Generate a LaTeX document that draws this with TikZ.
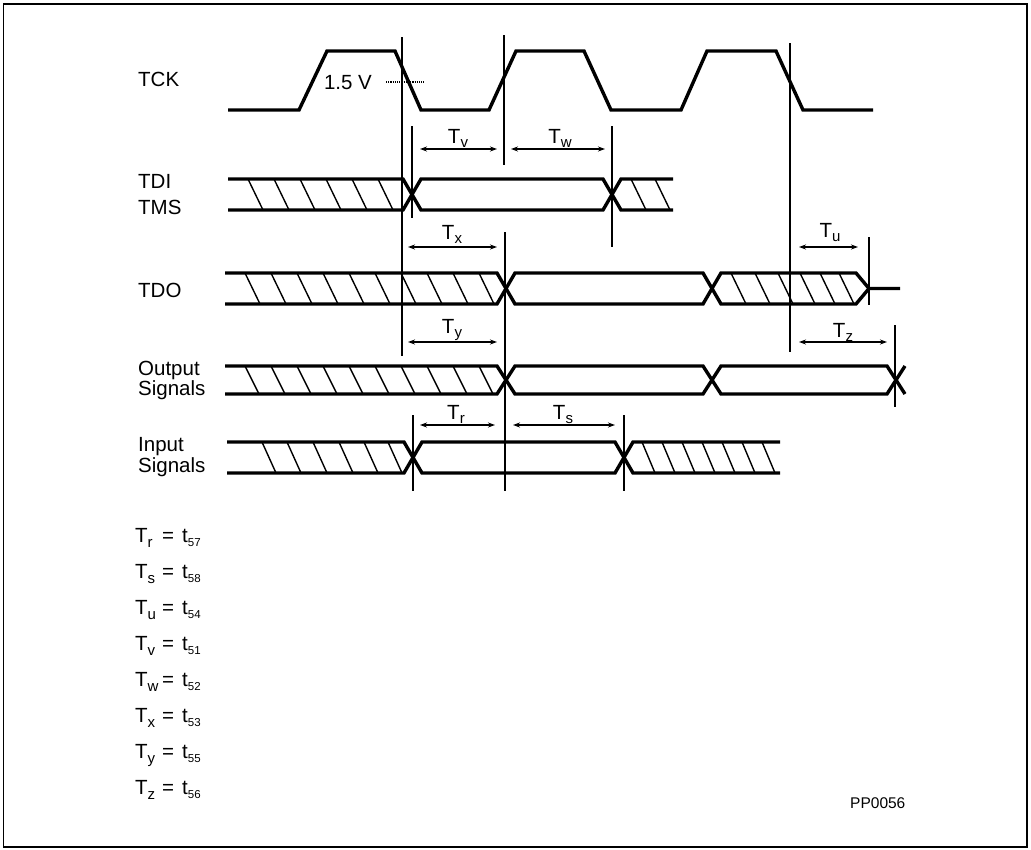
\documentclass[tikz,border=0pt]{standalone}
\usepackage{fontspec}
\setmainfont{Liberation Sans}
\usetikzlibrary{arrows.meta}
\newcommand\mysubT[1]{T\raisebox{-4.5pt}{\fontsize{15}{15}\selectfont #1}}
\newcommand\mysubt[1]{t\raisebox{-3.5pt}{\fontsize{11.5}{11.5}\selectfont #1}}
\newcommand\myeq[2]{\makebox[27pt][l]{\mysubT{#1}}=\hspace{8pt}\mysubt{#2}}
\begin{document}
\begin{tikzpicture}[x=1pt,y=-1pt,
  sig/.style={line width=3.4pt},
  hatch/.style={line width=1.4pt},
  vline/.style={line width=1.3pt},
  dim/.style={line width=1.2pt,{Stealth[length=7pt,width=5pt]}-{Stealth[length=7pt,width=5pt]}},
  lbl/.style={anchor=base west,inner sep=0pt,font=\fontsize{20.5}{23}\selectfont},
  tlbl/.style={anchor=base,inner sep=0pt,font=\fontsize{20.5}{23}\selectfont},
  eq/.style={anchor=base west,inner sep=0pt,font=\fontsize{20.5}{23}\selectfont}]
\useasboundingbox (0,0) rectangle (1031,849);
\draw[line width=1.6pt] (3.5,4) rectangle (1027,847);

% labels
\node[lbl] (lTCK) at (138,86.5) {TCK};
\node[lbl] (lTDI) at (138,188.5) {TDI};
\node[lbl] (lTMS) at (138,214.5) {TMS};
\node[lbl] (lTDO) at (138,297.5) {TDO};
\node[lbl] (lOut) at (138,375.5) {Output};
\node[lbl] (lOutS) at (138,395) {Signals};
\node[lbl] (lIn) at (138,451) {Input};
\node[lbl] (lInS) at (138,472) {Signals};

% TCK
\draw[sig] (228,110)--(299,110)--(327,51)--(395,51)--(421,110)--(489,110)--(516,51)--(584,51)--(611,110)--(681,110)--(707,51)--(776,51)--(803,110)--(873,110);
\node[tlbl] (v15) at (348,89) {1.5 V};
\draw[line width=1.2pt,dash pattern=on 1.2pt off 1pt] (386,82)--(424,82);

% TDI / TMS
\draw[sig] (228,179)--(403,179)--(421,210)--(603,210)--(621,179)--(673,179);
\draw[sig] (228,210)--(403,210)--(421,179)--(603,179)--(621,210)--(673,210);
\foreach \a in {248,274,300,326,352,378} \draw[hatch] (\a,179)--(\a+15,210);
\foreach \a in {631,655} \draw[hatch] (\a,179)--(\a+15,210);

% TDO
\draw[sig] (225,273)--(497,273)--(515,304)--(703,304)--(721,273)--(856,273)--(869,288.5)--(900,288.5);
\draw[sig] (225,304)--(497,304)--(515,273)--(703,273)--(721,304)--(856,304)--(869,288.5);
\foreach \a in {245,271,297,323,349,375,401,427,453,479} \draw[hatch] (\a,273)--(\a+15,304);
\foreach \a in {731,755,778,800,820,839} \draw[hatch] (\a,273)--(\a+15,304);

% Output signals
\draw[sig] (225,366)--(497,366)--(515,394)--(703,394)--(721,366)--(887,366)--(905,394);
\draw[sig] (225,394)--(497,394)--(515,366)--(703,366)--(721,394)--(887,394)--(905,366);
\foreach \a in {245,271,297,323,349,375,401,427,453,479} \draw[hatch] (\a,366)--(\a+14,394);

% Input signals
\draw[sig] (227,442)--(404,442)--(422,473)--(615,473)--(633,442)--(780,442);
\draw[sig] (227,473)--(404,473)--(422,442)--(615,442)--(633,473)--(780,473);
\foreach \a in {262,287,313,339,364,388} \draw[hatch] (\a,442)--(\a+14,473);
\foreach \a in {642,662,682,702,722,742,762} \draw[hatch] (\a,442)--(\a+13,473);

% vertical reference lines
\draw[vline] (402,37)--(402,356);
\draw[vline] (504,35)--(504,165);
\draw[vline] (412,126)--(412,218);
\draw[vline] (612,126)--(612,247);
\draw[vline] (505,232)--(505,491);
\draw[vline] (790,43)--(790,352);
\draw[vline] (869,237)--(869,305);
\draw[vline] (895,325)--(895,407);
\draw[vline] (413,415)--(413,491);
\draw[vline] (624,415)--(624,491);

% dimension arrows
\draw[dim] (420,149)--(497,149);
\node[tlbl] (tv) at (458,143) {\mysubT{v}};
\draw[dim] (511,149)--(605,149);
\node[tlbl] (tw) at (560,143) {\mysubT{w}};
\draw[dim] (408,247)--(497,247);
\node[tlbl] (tx) at (452,239) {\mysubT{x}};
\draw[dim] (799,247)--(858,247);
\node[tlbl] (tu) at (830,237) {\mysubT{u}};
\draw[dim] (408,342)--(497,342);
\node[tlbl] (ty) at (452,333) {\mysubT{y}};
\draw[dim] (799,342)--(887,342);
\node[tlbl] (tz) at (843,337) {\mysubT{z}};
\draw[dim] (420,425)--(495,425);
\node[tlbl] (tr) at (456,419) {\mysubT{r}};
\draw[dim] (513,425)--(615,425);
\node[tlbl] (ts) at (563,419) {\mysubT{s}};

% equations
\node[eq] (e1) at (135,542.5) {\myeq{r}{57}};
\node[eq] (e2) at (135,578.5) {\myeq{s}{58}};
\node[eq] (e3) at (135,614.5) {\myeq{u}{54}};
\node[eq] (e4) at (135,650.5) {\myeq{v}{51}};
\node[eq] (e5) at (135,686.5) {\myeq{w}{52}};
\node[eq] (e6) at (135,722.5) {\myeq{x}{53}};
\node[eq] (e7) at (135,758.5) {\myeq{y}{55}};
\node[eq] (e8) at (135,794.5) {\myeq{z}{56}};

\node[anchor=base west,inner sep=0pt,font=\fontsize{15.5}{18}\selectfont] (pp) at (850,808.5) {PP0056};
\end{tikzpicture}
\end{document}
